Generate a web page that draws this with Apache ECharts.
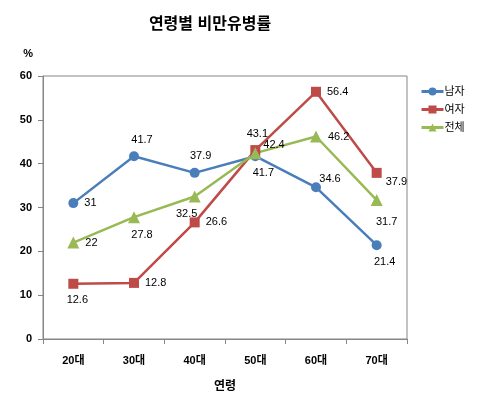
<!DOCTYPE html>
<html><head><meta charset="utf-8">
<script src="https://cdn.jsdelivr.net/npm/echarts@6/dist/echarts.min.js"></script>
<style>html,body{margin:0;padding:0;background:#fff}#c{width:500px;height:398px}</style>
</head><body><div id="c"></div>
<script>
const categories = ['20대', '30대', '40대', '50대', '60대', '70대'];
const male = [31, 41.7, 37.9, 41.7, 34.6, 21.4];
const female = [12.6, 12.8, 26.6, 43.1, 56.4, 37.9];
const total = [22, 27.8, 32.5, 42.4, 46.2, 31.7];
const seriesNames = ['남자', '여자', '전체'];
const yTicks = [0, 10, 20, 30, 40, 50, 60];

// label placement (style only): [position, dx, dy]
const maleLab = [['right',0,0],['top',8,0],['top',6,0],['bottom',8,0],['top',14,8],['bottom',8,0]];
const femaleLab = [['bottom',4,0],['right',0,0],['right',0,0],['top',2,0],['right',0,0],['right',-2,9]];
const totalLab = [['right',0,0],['bottom',8,0],['bottom',-8,0],['right',-4,-8],['right',0,0],['bottom',10,4]];

const font = '"Liberation Sans", Arial, "Noto Sans CJK KR", sans-serif';
function mk(vals, labs) {
  return vals.map((v, i) => ({
    value: v,
    label: { position: labs[i][0], offset: [labs[i][1], labs[i][2]] }
  }));
}
const colors = ['#4a7ebb', '#be4b48', '#98b954'];
const symbols = ['circle', 'rect', 'triangle'];
const sizes = [10, 10, 12];
const datas = [mk(male, maleLab), mk(female, femaleLab), mk(total, totalLab)];

const chart = echarts.init(document.getElementById('c'), null, {renderer: 'canvas'});
chart.setOption({
  animation: false,
  textStyle: { fontFamily: font },
  title: {
    text: '연령별 비만유병률', left: 205, top: 12, textAlign: 'center',
    textStyle: { fontSize: 16, fontWeight: 'bold', color: '#000', fontFamily: font }
  },
  legend: {
    orient: 'vertical', left: 415, top: 81, itemGap: 7, itemWidth: 22, itemHeight: 10,
    data: seriesNames,
    lineStyle: { width: 3 },
    textStyle: { fontSize: 11, color: '#000', padding: [0, 0, 0, -4] }
  },
  grid: { left: 43, right: 93, top: 76, bottom: 57, show: true, borderColor: '#868686', borderWidth: 1 },
  xAxis: {
    type: 'category', data: categories, boundaryGap: true,
    name: '연령', nameLocation: 'middle', nameGap: 42,
    nameTextStyle: { fontSize: 12, fontWeight: 'bold', color: '#000' },
    axisLine: { lineStyle: { color: '#868686' } },
    axisTick: { show: true, length: 5, lineStyle: { color: '#868686' } },
    axisLabel: { fontSize: 11, fontWeight: 'bold', color: '#000', margin: 16 }
  },
  yAxis: {
    type: 'value', min: yTicks[0], max: yTicks[yTicks.length - 1], interval: 10,
    name: '%', nameLocation: 'end', nameGap: 17,
    nameTextStyle: { fontSize: 11, fontWeight: 'bold', color: '#000', align: 'right', padding: [0, 10, 0, 0] },
    axisLine: { show: true, lineStyle: { color: '#868686' } },
    axisTick: { show: true, length: 5, lineStyle: { color: '#868686' } },
    splitLine: { show: false },
    axisLabel: { fontSize: 11, fontWeight: 'bold', color: '#000', margin: 11 }
  },
  series: seriesNames.map((n, k) => ({
    name: n, type: 'line', data: datas[k],
    symbol: symbols[k], symbolSize: sizes[k],
    itemStyle: { color: colors[k] },
    lineStyle: { color: colors[k], width: 2.5 },
    label: { show: true, fontSize: 11, color: '#000', distance: 6 }
  }))
});
</script></body></html>
